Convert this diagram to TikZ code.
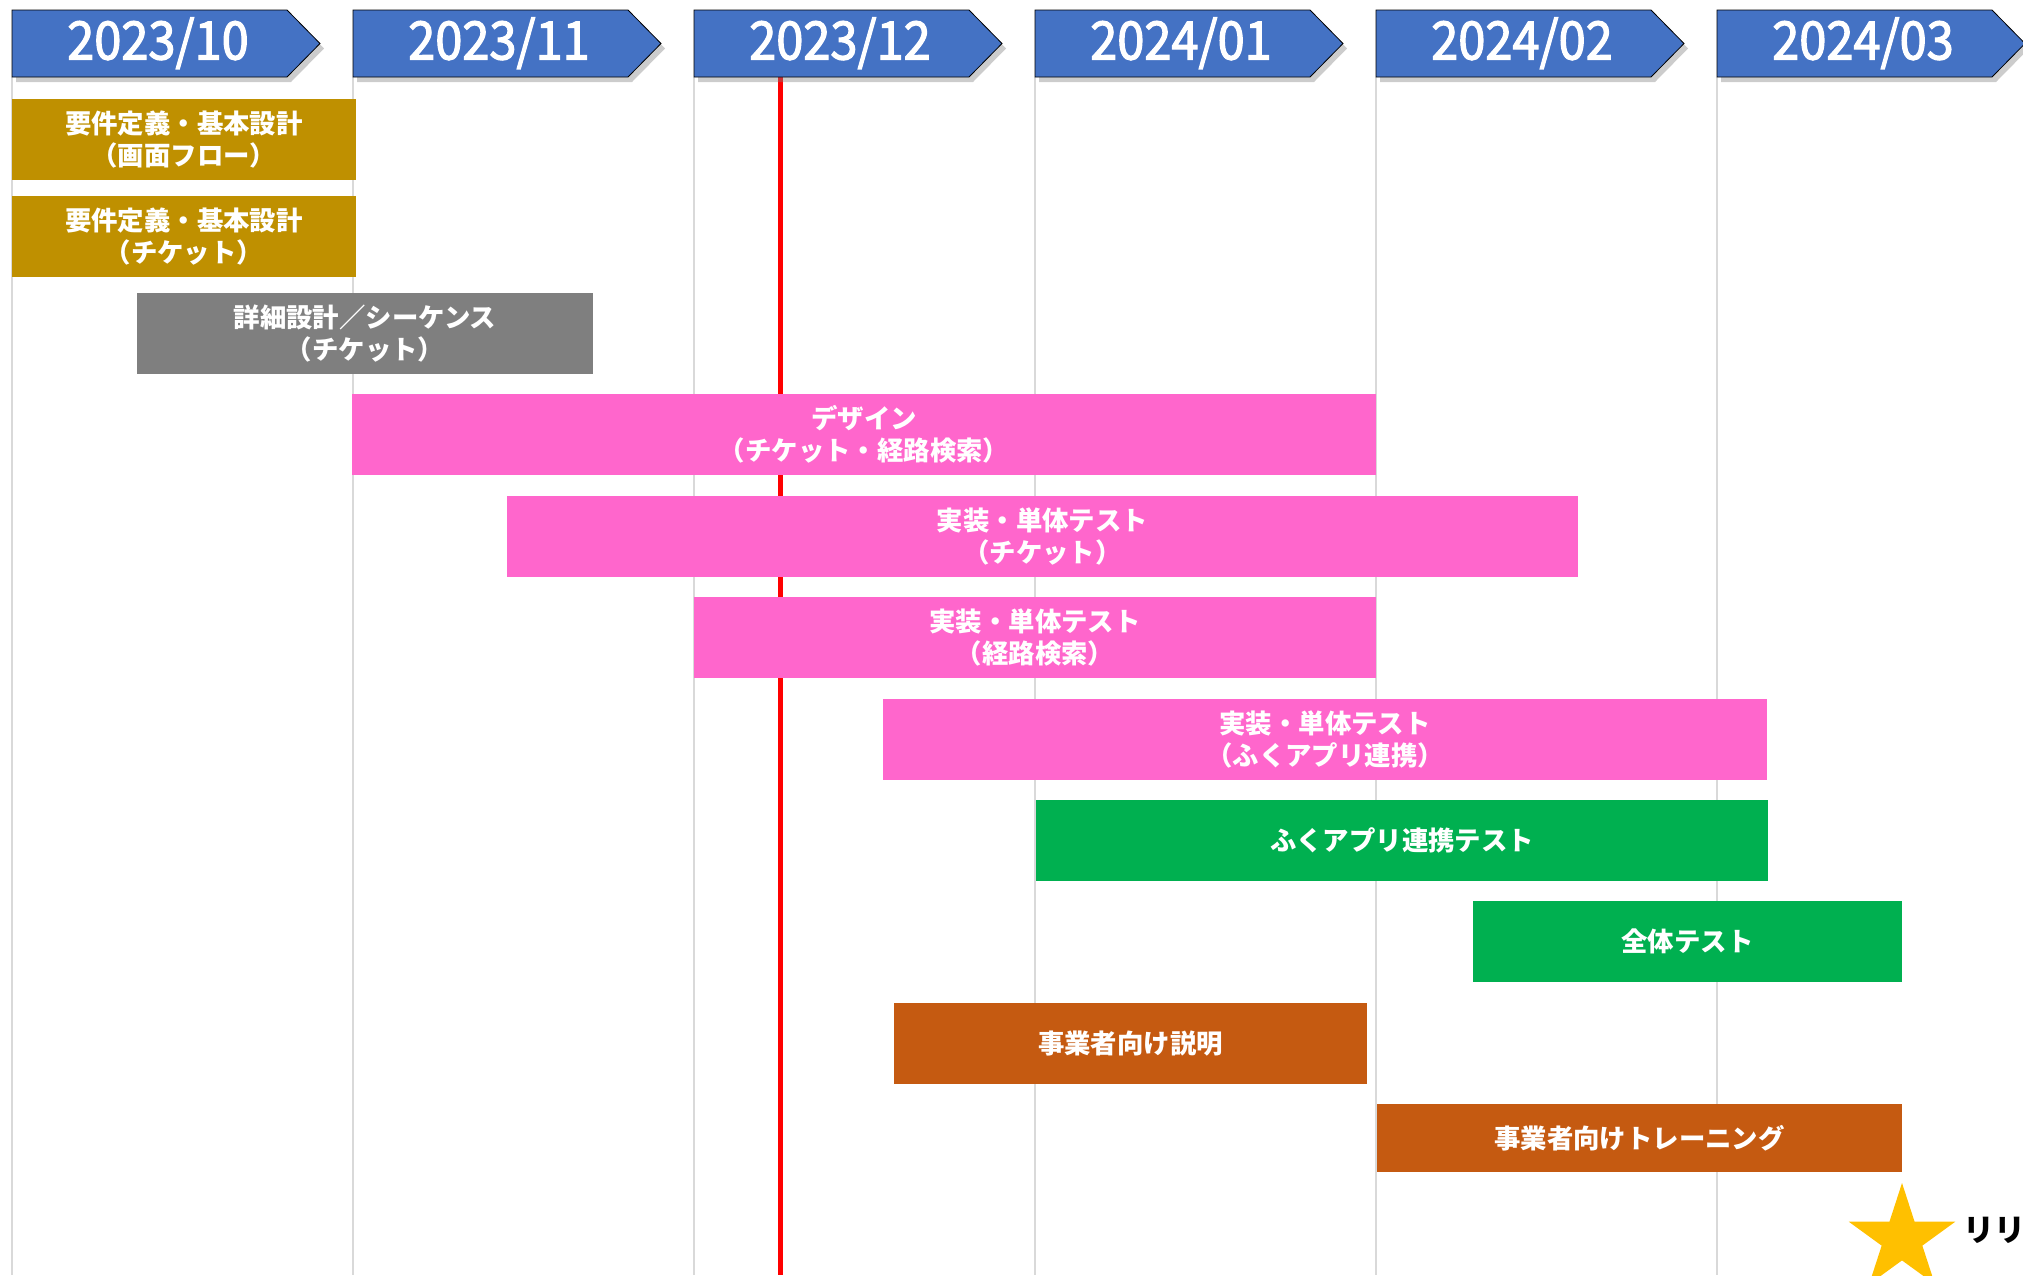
\documentclass[tikz,border=0pt]{standalone}
\usepackage{fontspec}
\setmainfont{Noto Sans CJK JP}
\newfontfamily\hdrfont{Noto Sans CJK JP}[FakeStretch=0.92,FakeBold=2.2]
\usetikzlibrary{shapes.geometric,shadows}
\definecolor{hdrblue}{HTML}{4472C4}
\definecolor{taskgold}{HTML}{BF9000}
\definecolor{taskgray}{HTML}{7F7F7F}
\definecolor{taskpink}{HTML}{FF66CC}
\definecolor{taskgreen}{HTML}{00B050}
\definecolor{taskorange}{HTML}{C55A11}
\definecolor{stargold}{HTML}{FFC000}
\definecolor{gridgray}{HTML}{D9D9D9}
\tikzset{
  month/.style={fill=hdrblue, drop shadow={shadow xshift=2pt, shadow yshift=-2.5pt, opacity=0.4}},
  monthlbl/.style={text=white, inner sep=0pt, anchor=base, font=\hdrfont\fontsize{26.5}{30}\selectfont},
  task/.style={fill=#1, text=white, align=center, inner sep=0pt, minimum height=40.3pt, font=\fontsize{13.2}{16}\selectfont\bfseries},
  gridline/.style={draw=gridgray, line width=0.6pt},
}
\begin{document}
\begin{tikzpicture}[x=0.5pt,y=-0.5pt]
     \useasboundingbox (0,0) rectangle (2023,1275);
     \foreach \i in {0,...,5} \draw[gridline] (12+341*\i,77) -- (12+341*\i,1275);
     \draw[red, line width=2.2pt] (780.5,77) -- (780.5,1275);
     \foreach \yr/\mo [count=\i from 0] in {2023/10,2023/11,2023/12,2024/01,2024/02,2024/03} {
       \draw[month] (12+341*\i,10) -- ++(275,0) -- ++(33,33.5) -- ++(-33,33.5) -- ++(-275,0) -- cycle;
       \node[monthlbl] (m\i) at (158+341*\i,59.5) {\yr/\mo};
     }
     \node[task=taskgold, minimum width=171.8pt] (reqflow) at (183.9,139.3) {要件定義・基本設計\\（画面フロー）};
     \node[task=taskgold, minimum width=171.8pt] (reqticket) at (183.9,236.3) {要件定義・基本設計\\（チケット）};
     \node[task=taskgray, minimum width=228pt] (detail) at (365,333.3) {詳細設計／シーケンス\\（チケット）};
     \node[task=taskpink, minimum width=512pt] (design) at (864,434.5) {デザイン\\（チケット・経路検索）};
     \node[task=taskpink, minimum width=535.5pt] (implticket) at (1042.5,536.3) {実装・単体テスト\\（チケット）};
     \node[task=taskpink, minimum width=341pt] (implroute) at (1035,637.3) {実装・単体テスト\\（経路検索）};
     \node[task=taskpink, minimum width=442pt] (implfuku) at (1325,739.3) {実装・単体テスト\\（ふくアプリ連携）};
     \node[task=taskgreen, minimum width=366pt] (fukutest) at (1402,840.3) {ふくアプリ連携テスト};
     \node[task=taskgreen, minimum width=214.5pt] (alltest) at (1687.5,941.3) {全体テスト};
     \node[task=taskorange, minimum width=236.5pt] (explain) at (1130.5,1043.3) {事業者向け説明};
     \node[task=taskorange, minimum width=262.5pt, minimum height=33.8pt] (training) at (1639.5,1137.9) {事業者向けトレーニング};
     \node[star, star points=5, star point ratio=2.618, fill=stargold, inner sep=0pt, minimum size=56pt] (release) at (1902,1239) {};
     \node[anchor=west, inner sep=0pt, font=\fontsize{15.5}{18}\selectfont\bfseries] (releaselbl) at (1963,1230) {リリ};
   \end{tikzpicture}
\end{document}
